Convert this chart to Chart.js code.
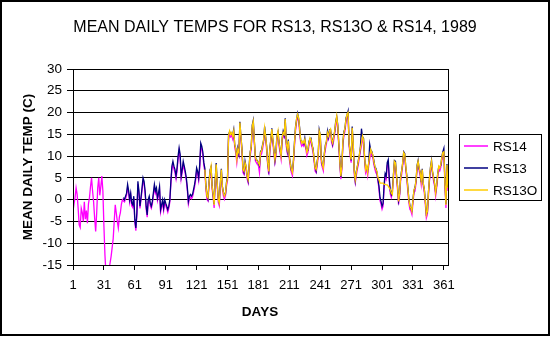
<!DOCTYPE html>
<html>
<head>
<meta charset="utf-8">
<script src="https://cdn.jsdelivr.net/npm/chart.js@4.4.0/dist/chart.umd.min.js"></script>
<style>
  html, body { margin: 0; padding: 0; background: #fff; }
  #wrap { width: 552px; height: 338px; }
</style>
</head>
<body>
<div id="wrap"><canvas id="tempChart" width="552" height="338"></canvas></div>
<script>
// --- chart data ---
const dayTicks = [1, 31, 61, 91, 121, 151, 181, 211, 241, 271, 301, 331, 361];
const yMin = -15, yMax = 30, yStep = 5;
const seriesNames = ['RS14', 'RS13', 'RS13O'];

// RS14 runs from day 1
const rs14 = [
  -2.7, -1, 0.5, 2.7, 1.2, -2, -5.8, -6.4, -2, -3,
  -5, -0.5, -4.5, -2.5, -5.4, -1, 0.5, 3, 5, 2,
  -0.5, -4.2, -7.3, -3, 2.7, 5, 1, 3, 5.4, 2,
  -6, -12.7, -17, -18, -17.5, -16, -14.5, -13, -11, -9,
  -5, -1.2, -3, -5, -6.5, -4, -3, -1, 0, -0.3,
  -0.5, 0.2, 1.0, 2.8, 1.5, -0.6, 1.0, -1.4, -1.8, 0.3,
  -5.2, -7.1, -3.5, 3.6, 1.4, -2.0, 0, 2.1, 4.3, 3.6,
  1.4, -2.1, -4.0, -0.6, 0.2, -1.4, -2.0, -1.0, 0.9, 2.9,
  1.4, 2.0, -0.2, 0.9, 2.4, -2.9, -1.8, -0.6, -2.5, -0.6,
  -1.4, -2.1, -2.9, -2.0, -0.5, 3.6, 7.0, 8.0, 7.0, 6.2,
  4.8, 6.6, 9.3, 11.2, 9.7, 4.8, 6.3, 8.1, 7.0, 5.9,
  4.4, 2.1, -1.0, 0.2, 0.6, 0.2, 0.6, 1.7, 2.9, 4.4,
  6.6, 5.9, 4.4, 7.3, 12.2, 11.6, 10.3, 7.9, 6.4, 2.4,
  0.1, -0.3, 3.2, 5.9, 7.0, 2.5, 0.5, -1.9, 3.6, 7.4,
  3.1, -0.6, -1.4, 2.9, 6.3, 2.4, 0.9, 0.1, 0.9, 3.1,
  4.4, 13.9, 15.1, 14.4, 14.7, 13.9, 15.1, 12.0, 10.8, 8.5,
  10.8, 10.1, 17.0, 13.9, 10.8, 6.2, 5.8, 7.8, 7.0, 4.8,
  3.9, 7.0, 10.1, 11.6, 16.2, 17.3, 13.1, 8.9, 8.5, 8.1,
  7.8, 6.2, 10.1, 10.5, 11.6, 13.1, 15.8, 13.9, 11.2, 7.8,
  5.8, 10.8, 13.1, 15.5, 13.1, 10.5, 8.5, 10.1, 13.9, 15.1,
  12.3, 10.8, 9.3, 13.5, 14.7, 14.3, 17.8, 12.3, 10.8, 12.8,
  9.3, 7.4, 6.2, 5.5, 8.5, 12.3, 15.8, 17.8, 18.9, 18.1,
  15.5, 13.1, 12.3, 12.7, 12.3, 13.1, 11.6, 10.1, 10.8, 12.3,
  13.5, 13.1, 12.0, 10.8, 8.9, 6.6, 6.2, 7.8, 9.7, 15.1,
  14.3, 8.5, 7.4, 6.6, 10.1, 11.6, 12.8, 14.7, 13.9, 15.1,
  15.5, 13.1, 12.3, 13.5, 15.1, 17.0, 18.5, 16.2, 12.3, 8.1,
  4.7, 7.0, 12.8, 14.7, 15.8, 17.8, 18.9, 19.3, 12.3, 10.1,
  8.5, 15.8, 12.3, 5.8, 3.9, 5.5, 7.0, 8.1, 9.7, 11.2,
  12.3, 13.9, 13.1, 9.3, 6.2, 7.0, 5.5, 7.8, 9.3, 10.8,
  10.1, 9.7, 8.1, 7.0, 6.2, 5.8, 4.3, 2.4, -0.2, -1.1,
  -2.2, -1.5, 2.8, 5.3, 4.7, 7.8, 8.5, 4.3, 1.3, 0.5,
  1.6, 4.7, 8.1, 7.8, 5.1, 2.3, -1.1, 0.8, 4.3, 5.8,
  7.8, 10.1, 9.7, 7.0, 4.7, 2.0, -0.7, -2.2, -2.6, -3.4,
  -0.7, 1.6, 2.0, 3.9, 7.0, 8.1, 6.6, 5.5, 3.5, 6.2,
  3.1, 1.6, -1.1, -4.2, -3.4, 0.8, 4.3, 6.6, 8.1, 5.8,
  4.3, 3.1, 0.8, 2.8, 5.1, 7.0, 6.6, 7.4, 8.9, 10.1,
  10.3, 3.5, -1.9, 7.3, 2.0
];

// RS13 starts on day 50
const rs13Start = 50;
const rs13 = [
  0.5, 0, 0.8, 1.5, 3.5, 2, 0, 1.5, -0.8, -1.2,
  0.8, -4.6, -6.5, -3, 4.2, 2, -1.5, 0.5, 2.7, 5,
  4.2, 2, -1.5, -3.5, 0, 0.8, -0.8, -1.5, -0.4, 1.5,
  3.5, 2, 2.7, 0.4, 1.5, 3, -2.3, -1.2, 0, -1.9,
  0, -0.8, -1.5, -2.3, -1.5, 0, 4.2, 7.7, 8.8, 7.7,
  6.9, 5.4, 7.3, 10, 11.9, 10.4, 5.4, 6.9, 8.8, 7.7,
  6.5, 5, 2.7, -0.4, 0.8, 1.2, 0.8, 1.2, 2.3, 3.5,
  5, 7.3, 6.5, 5, 8, 13, 12.3, 11, 8.5, 7.2,
  3.3, 1.0, 0.2, 4.0, 6.8, 7.5, 3.4, 1.0, -1.0, 4.5,
  8.4, 3.6, 0.3, -0.6, 3.8, 7.1, 3.0, 1.8, 1.0, 1.3,
  4.0, 5.3, 14.9, 15.6, 15.2, 15.1, 14.9, 16.1, 12.5, 11.8,
  9.4, 11.8, 10.6, 17.9, 14.4, 11.8, 7.2, 6.3, 8.8, 7.5,
  5.7, 4.4, 7.9, 11.0, 12.1, 17.1, 18.2, 13.6, 9.9, 9.0,
  9.0, 8.3, 7.8, 11.0, 11.4, 12.6, 13.6, 16.8, 14.4, 12.2,
  8.3, 6.8, 11.8, 13.6, 16.4, 13.6, 11.5, 9.0, 11.1, 14.8,
  15.6, 13.3, 11.3, 10.3, 14.0, 15.7, 14.8, 18.7, 13.2, 11.3,
  13.8, 9.8, 8.4, 6.7, 6.5, 9.0, 13.3, 16.7, 18.4, 19.8,
  18.6, 16.5, 13.6, 13.3, 13.2, 12.8, 14.1, 12.1, 11.1, 11.3,
  13.3, 14.0, 14.1, 12.5, 11.8, 9.4, 7.5, 6.6, 8.8, 10.2,
  16.0, 14.8, 9.5, 7.9, 7.6, 10.6, 12.6, 13.3, 15.7, 14.4,
  16.0, 16.0, 14.1, 12.8, 14.5, 15.6, 18.0, 19.0, 17.2, 12.8,
  9.1, 5.2, 8.0, 13.3, 15.7, 16.3, 18.8, 19.4, 20.3, 12.8,
  11.1, 9.0, 16.8, 12.8, 6.8, 4.4, 6.5, 7.5, 9.1, 10.2,
  12.2, 16.3, 14.4, 14.1, 9.8, 7.2, 7.5, 6.5, 8.3, 12.7,
  11.3, 11.1, 10.1, 9.1, 7.5, 7.2, 6.3, 4.6, 3.1, 0.5,
  -0.4, -1.5, -0.8, 3.5, 6.0, 5.4, 8.5, 9.2, 5.0, 2.0,
  1.2, 2.3, 5.6, 9.0, 8.8, 5.6, 3.2, -0.2, 1.3, 5.2,
  6.7, 8.3, 11.0, 10.6, 7.5, 5.6, 2.9, 0.2, -1.3, -2.1,
  -2.5, 0.2, 2.1, 2.9, 4.4, 7.9, 9.0, 7.1, 6.4, 4.0,
  7.1, 3.6, 2.5, -0.2, -3.3, -2.9, 1.7, 4.8, 7.5, 9.0,
  6.3, 5.2, 3.6, 1.7, 3.3, 6.0, 7.5, 7.5, 7.9, 9.8,
  11.0, 11.8, 4.2, -1.0, 8.2, 2.9
];

// RS13O starts on day 129
const rs13oStart = 129;
const rs13o = [
  6.9, 3.1, 0.8, 0.4, 3.8, 6.5, 7.7, 3.1, 1.2, -1.2,
  4.2, 8.1, 3.8, 0, -0.8, 3.5, 6.9, 3.1, 1.5, 0.8,
  1.5, 3.8, 5, 14.6, 15.8, 15, 15.4, 14.6, 15.8, 12.7,
  11.5, 9.2, 11.5, 10.8, 17.7, 14.6, 11.5, 6.9, 6.5, 8.5,
  7.7, 5.4, 4.6, 7.7, 10.8, 12.3, 16.9, 18, 13.8, 9.6,
  9.2, 8.8, 8.5, 8, 10.8, 11.2, 12.3, 13.8, 16.5, 14.6,
  11.9, 8.5, 6.5, 11.5, 13.8, 16.2, 13.8, 11.2, 9.2, 10.8,
  14.6, 15.8, 13, 11.5, 10, 14.2, 15.4, 15, 18.5, 13,
  11.5, 13.5, 10, 8.1, 6.9, 6.2, 9.2, 13, 16.5, 18.5,
  19.6, 18.8, 16.2, 13.8, 13, 13.4, 13, 13.8, 12.3, 10.8,
  11.5, 13, 14.2, 13.8, 12.7, 11.5, 9.6, 7.3, 6.9, 8.5,
  10.4, 15.8, 15, 9.2, 8.1, 7.3, 10.8, 12.3, 13.5, 15.4,
  14.6, 15.8, 16.2, 13.8, 13, 14.2, 15.8, 17.7, 19.2, 16.9,
  13, 8.8, 5.4, 7.7, 13.5, 15.4, 16.5, 18.5, 19.6, 20,
  13, 10.8, 9.2, 16.5, 13, 6.5, 4.6, 6.2, 7.7, 8.8,
  10.4, 11.9, 13, 14.6, 13.8, 10, 6.9, 7.7, 6.2, 8.5,
  10, 11.5, 10.8, 10.4, 8.8, 7.7, 6.9, 6.5, 5, 4.6,
  3.8, 3.8, 3.8, 3.8, 3.5, 3.5, 3.4, 3.4, 3.1, 2.7,
  2.3, 1.5, 1.2, 5.4, 8.8, 8.5, 5.8, 3, -0.4, 1.5,
  5, 6.5, 8.5, 10.8, 10.4, 7.7, 5.4, 2.7, 0, -1.5,
  -1.9, -2.7, 0, 2.3, 2.7, 4.6, 7.7, 8.8, 7.3, 6.2,
  4.2, 6.9, 3.8, 2.3, -0.4, -3.5, -2.7, 1.5, 5, 7.3,
  8.8, 6.5, 5, 3.8, 1.5, 3.5, 5.8, 7.7, 7.3, 8.1,
  9.6, 10.8, 11, 4, -1.2, 8, 2.7
];

const colors = { RS14: '#ff00ff', RS13: '#000080', RS13O: '#ffcc00' };
const FONT = '"Liberation Sans", Arial, sans-serif';

function toPoints(values, start) {
  return values.map((v, i) => ({ x: start + i, y: v }));
}

const frame = {
  id: 'frame',
  beforeDraw(chart) {
    const ctx = chart.ctx;
    ctx.save();
    ctx.fillStyle = '#fff';
    ctx.fillRect(0, 0, chart.width, chart.height);
    ctx.restore();
  },
  afterDraw(chart) {
    const ctx = chart.ctx;
    const a = chart.chartArea;
    ctx.save();
    // outer border
    ctx.strokeStyle = '#000';
    ctx.lineWidth = 2;
    ctx.strokeRect(1, 1, 548, 334);
    // plot box
    ctx.lineWidth = 1;
    ctx.strokeRect(Math.round(a.left) + 0.5, Math.round(a.top) + 0.5,
      Math.round(a.right - a.left), Math.round(a.bottom - a.top));

    ctx.fillStyle = '#000';
    ctx.textAlign = 'center';
    ctx.textBaseline = 'middle';
    ctx.font = '16px ' + FONT;
    ctx.fillText('MEAN DAILY TEMPS FOR RS13, RS13O & RS14, 1989', 275, 28);

    ctx.font = 'bold 13.5px ' + FONT;
    ctx.fillText('DAYS', 260, 312);
    ctx.save();
    ctx.translate(28, 167);
    ctx.rotate(-Math.PI / 2);
    ctx.fillText('MEAN DAILY TEMP (C)', 0, 0);
    ctx.restore();

    // legend
    ctx.strokeRect(459.5, 134.5, 82, 66);
    ctx.font = '13.5px ' + FONT;
    ctx.textAlign = 'left';
    const rows = [146, 168, 190];
    seriesNames.forEach((name, i) => {
      ctx.strokeStyle = colors[name];
      ctx.lineWidth = 1.5;
      ctx.beginPath();
      ctx.moveTo(464, rows[i]);
      ctx.lineTo(488, rows[i]);
      ctx.stroke();
      ctx.fillText(name, 493, rows[i] + 1);
    });
    ctx.restore();
  }
};

const lineStyle = { borderWidth: 1.3, pointRadius: 0, tension: 0, fill: false };

new Chart(document.getElementById('tempChart'), {
  type: 'line',
  data: {
    datasets: [
      { label: 'RS13O', data: toPoints(rs13o, rs13oStart), borderColor: colors.RS13O, ...lineStyle },
      { label: 'RS13', data: toPoints(rs13, rs13Start), borderColor: colors.RS13, ...lineStyle },
      { label: 'RS14', data: toPoints(rs14, 1), borderColor: colors.RS14, ...lineStyle }
    ]
  },
  options: {
    responsive: false,
    animation: false,
    devicePixelRatio: 1,
    layout: { padding: { left: 0, top: 69, right: 104, bottom: 0 } },
    plugins: { legend: { display: false }, title: { display: false }, tooltip: { enabled: false } },
    scales: {
      x: {
        type: 'linear',
        min: 1,
        max: 365,
        afterBuildTicks: s => { s.ticks = dayTicks.map(v => ({ value: v })); },
        afterFit: s => { s.height = 73; },
        ticks: { color: '#000', font: { family: FONT, size: 13 }, padding: 8, maxRotation: 0, autoSkip: false },
        grid: { drawOnChartArea: false, drawTicks: true, tickLength: 5, color: '#000' },
        border: { color: '#000', width: 1 }
      },
      y: {
        min: yMin,
        max: yMax,
        afterFit: s => { s.width = 73; },
        ticks: { stepSize: yStep, color: '#000', font: { family: FONT, size: 13.5 }, padding: 5 },
        grid: { color: '#000', lineWidth: 1, tickLength: 6 },
        border: { color: '#000', width: 1 }
      }
    }
  },
  plugins: [frame]
});
</script>
</body>
</html>
